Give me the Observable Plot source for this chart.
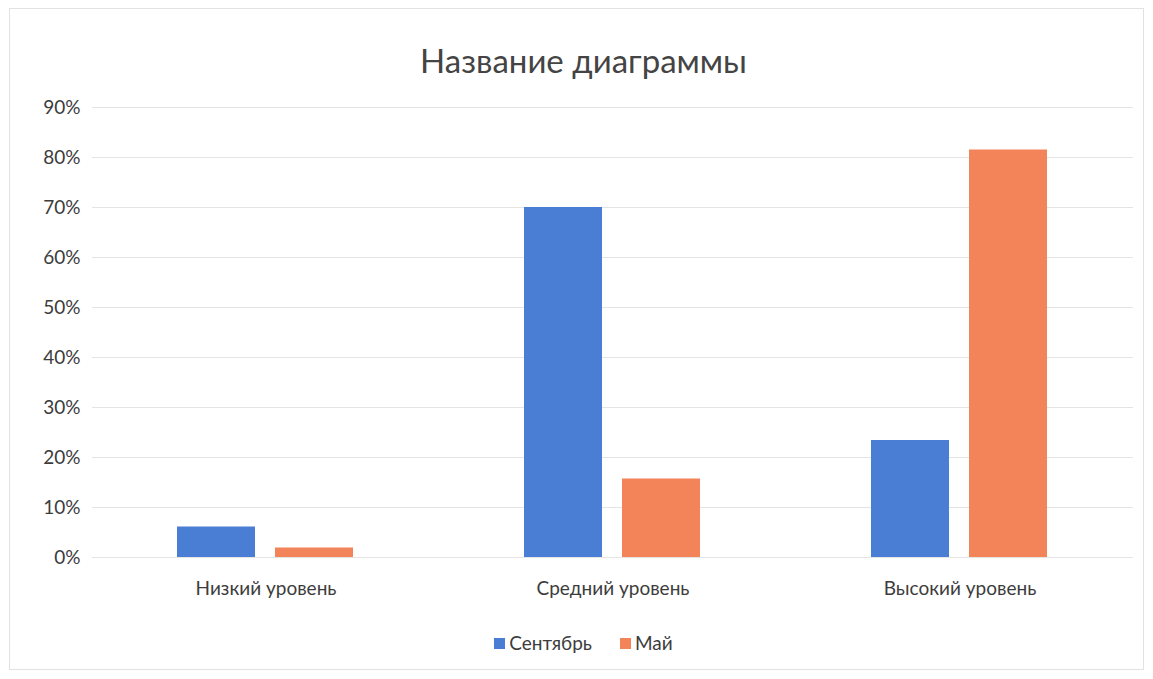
<!DOCTYPE html>
<html>
<head>
<meta charset="utf-8">
<script src="https://cdn.jsdelivr.net/npm/d3@7"></script>
<script src="https://cdn.jsdelivr.net/npm/@observablehq/plot@0.6"></script>
<style>
  html, body { margin: 0; padding: 0; background: #fff; }
  body { width: 1153px; height: 679px; position: relative; overflow: hidden; font-family: Lato, "Open Sans", sans-serif; }
  #frame { position: absolute; left: 9px; top: 8px; width: 1133px; height: 660px; border: 1px solid #e2e2e2; pointer-events: none; }
  #title { height: 90px; box-sizing: border-box; padding-top: 40px; text-align: center; font-size: 33px; line-height: 40px; color: #444; padding-left: 14px; }
  #chart { height: 517px; }
  #legend { padding-top: 25px; height: 22px; line-height: 22px; text-align: center; font-size: 19px; color: #3c3c3c; display: flex; justify-content: center; gap: 28px; padding-left: 14px; }
  .item { display: inline-flex; align-items: center; gap: 4px; }
  .sw { width: 11px; height: 11px; display: inline-block; }
</style>
</head>
<body>
<div id="frame"></div>
<div id="title">Название диаграммы</div>
<div id="chart"></div>
<div id="legend"></div>
<script>
const categories = ["Низкий уровень", "Средний уровень", "Высокий уровень"];
const seriesNames = ["Сентябрь", "Май"];
const september = [0.061, 0.70, 0.234];
const may = [0.019, 0.157, 0.815];
const yTicks = [0, 0.1, 0.2, 0.3, 0.4, 0.5, 0.6, 0.7, 0.8, 0.9];
const colors = ["#4a7dd4", "#f3845a"];

const rows = [];
categories.forEach((c, i) => {
  rows.push({category: c, series: seriesNames[0], value: september[i]});
  rows.push({category: c, series: seriesNames[1], value: may[i]});
});

const chart = Plot.plot({
  width: 1153,
  height: 517,
  marginTop: 17,
  marginBottom: 50,
  marginLeft: 91,
  marginRight: 20,
  style: {fontFamily: "Lato, 'Open Sans', sans-serif", color: "#3c3c3c", background: "white"},
  fx: {domain: categories, padding: 0},
  x: {domain: seriesNames, paddingInner: 0.2, paddingOuter: 0.87, axis: null},
  y: {domain: [0, 0.9]},
  color: {domain: seriesNames, range: colors},
  marks: [
    Plot.ruleY(yTicks, {stroke: "#e4e4e4", strokeWidth: 1}),
    Plot.barY(rows, {fx: "category", x: "series", y: "value", fill: "series"}),
    Plot.axisY({ticks: yTicks, tickFormat: d3.format(".0%"), tickSize: 0, tickPadding: 12, fontSize: 19, label: null}),
    Plot.axisFx({anchor: "bottom", tickSize: 0, tickPadding: 24, fontSize: 19, label: null})
  ]
});
document.getElementById("chart").appendChild(chart);

const legend = document.getElementById("legend");
seriesNames.forEach((s, i) => {
  const item = document.createElement("span");
  item.className = "item";
  const sw = document.createElement("span");
  sw.className = "sw";
  sw.style.background = colors[i];
  item.appendChild(sw);
  item.appendChild(document.createTextNode(s));
  legend.appendChild(item);
});
</script>
</body>
</html>
